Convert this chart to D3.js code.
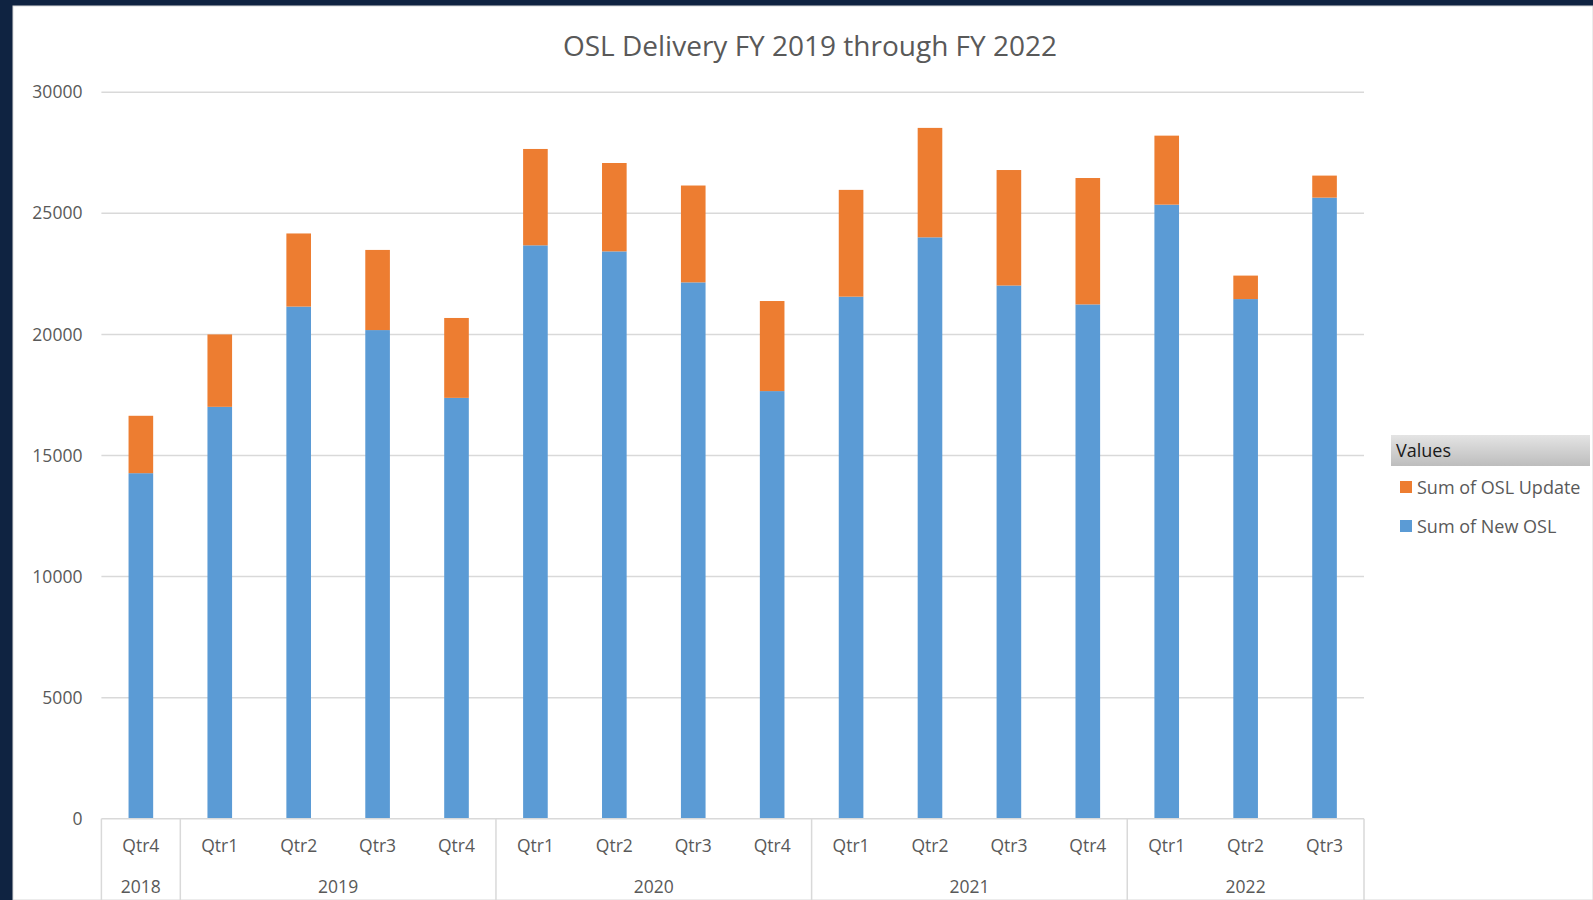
<!DOCTYPE html>
<html>
<head>
<meta charset="utf-8">
<script src="https://cdn.jsdelivr.net/npm/d3@7"></script>
<style>
  html, body { margin: 0; padding: 0; background: #0f2341; }
  svg { display: block; }
  text { font-family: "Open Sans", "Noto Sans", sans-serif; }
</style>
</head>
<body>
<div id="chart"></div>
<script>
// chart values
var quarters = ["Qtr4", "Qtr1", "Qtr2", "Qtr3", "Qtr4", "Qtr1", "Qtr2", "Qtr3", "Qtr4",
                "Qtr1", "Qtr2", "Qtr3", "Qtr4", "Qtr1", "Qtr2", "Qtr3"];
var years = ["2018", "2019", "2020", "2021", "2022"];
var yearCounts = [1, 4, 4, 4, 3];
var newOSL = [14270, 17010, 21150, 20180, 17380, 23680, 23430, 22150, 17660,
              21560, 24010, 22020, 21240, 25360, 21460, 25650];
var oslUpdate = [2370, 2990, 3020, 3310, 3300, 3980, 3650, 4000, 3720,
                 4410, 4520, 4770, 5220, 2850, 970, 910];
var yTicks = [0, 5000, 10000, 15000, 20000, 25000, 30000];
var seriesNames = ["Sum of New OSL", "Sum of OSL Update"];
var seriesColors = ["#5b9bd5", "#ed7d31"];

function render() {
    const width = 1593;
    const height = 900;
    const left = 101.4, right = 1364, top = 92.3, bottom = 818.7;

    const svg = d3.select("#chart")
        .append("svg")
        .attr("width", width)
        .attr("height", height);

    // white panel
    svg.append("rect")
        .attr("x", 13).attr("y", 6)
        .attr("width", width - 13).attr("height", height - 6)
        .attr("fill", "#ffffff")
        .attr("stroke", "#d9d9d9");

    const idx = d3.range(quarters.length);
    const x = d3.scaleBand()
        .domain(idx)
        .range([left, right])
        .padding(0);

    const y = d3.scaleLinear()
        .domain([0, 30000])
        .range([bottom, top]);

    // gridlines
    svg.append("g")
        .selectAll("line")
        .data(yTicks.slice(1))
        .enter()
        .append("line")
        .attr("x1", left).attr("x2", right)
        .attr("y1", d => y(d)).attr("y2", d => y(d))
        .attr("stroke", "#d9d9d9")
        .attr("stroke-width", 1.5);

    // y axis labels
    const leftAxis = d3.axisLeft(y).tickValues(yTicks).tickFormat(d3.format("d"))
        .tickSize(0).tickPadding(19);
    const gy = svg.append("g")
        .attr("transform", `translate(${left}, 0)`)
        .call(leftAxis);
    gy.select(".domain").remove();
    gy.selectAll("text")
        .style("font-size", "17.5px")
        .attr("fill", "#595959");

    // stacked bars
    const rows = idx.map(i => ({ i: i, newOSL: newOSL[i], oslUpdate: oslUpdate[i] }));
    const stacked = d3.stack().keys(["newOSL", "oslUpdate"])(rows);
    const barW = x.bandwidth() * 0.312;

    svg.append("g")
        .selectAll("g")
        .data(stacked)
        .enter()
        .append("g")
        .attr("fill", (d, k) => seriesColors[k])
        .selectAll("rect")
        .data(d => d)
        .enter()
        .append("rect")
        .attr("x", d => x(d.data.i) + (x.bandwidth() - barW) / 2)
        .attr("y", d => y(d[1]))
        .attr("width", barW)
        .attr("height", d => y(d[0]) - y(d[1]));

    // baseline
    svg.append("line")
        .attr("x1", left).attr("x2", right)
        .attr("y1", bottom).attr("y2", bottom)
        .attr("stroke", "#d9d9d9")
        .attr("stroke-width", 1.5);

    // category axis: quarter labels
    svg.append("g")
        .selectAll("text")
        .data(idx)
        .enter()
        .append("text")
        .attr("x", d => x(d) + x.bandwidth() / 2)
        .attr("y", 852)
        .attr("text-anchor", "middle")
        .attr("fill", "#595959")
        .style("font-size", "17.5px")
        .text(d => quarters[d]);

    // year groups
    let starts = [0];
    yearCounts.forEach((c, k) => starts.push(starts[k] + c));
    const edges = starts.map(s => (s < quarters.length ? x(s) : right));

    svg.append("g")
        .selectAll("line")
        .data(edges)
        .enter()
        .append("line")
        .attr("x1", d => d).attr("x2", d => d)
        .attr("y1", bottom).attr("y2", height)
        .attr("stroke", "#d9d9d9")
        .attr("stroke-width", 1.5);

    svg.append("g")
        .selectAll("text")
        .data(years)
        .enter()
        .append("text")
        .attr("x", (d, k) => (edges[k] + edges[k + 1]) / 2)
        .attr("y", 893)
        .attr("text-anchor", "middle")
        .attr("fill", "#595959")
        .style("font-size", "17.5px")
        .text(d => d);

    // title
    svg.append("text")
        .attr("x", 810)
        .attr("y", 56)
        .attr("text-anchor", "middle")
        .attr("fill", "#595959")
        .style("font-size", "28px")
        .text("OSL Delivery FY 2019 through FY 2022");

    // legend
    const grad = svg.append("defs").append("linearGradient")
        .attr("id", "hdr").attr("x1", 0).attr("y1", 0).attr("x2", 0).attr("y2", 1);
    grad.append("stop").attr("offset", "0%").attr("stop-color", "#e4e4e4");
    grad.append("stop").attr("offset", "100%").attr("stop-color", "#bdbdbd");

    const lg = svg.append("g");
    lg.append("rect")
        .attr("x", 1391).attr("y", 435)
        .attr("width", 199).attr("height", 31)
        .attr("fill", "url(#hdr)");
    lg.append("text")
        .attr("x", 1396).attr("y", 457)
        .attr("fill", "#1a1a1a")
        .style("font-size", "18px")
        .text("Values");

    const legendItems = [1, 0];
    lg.selectAll("g.item")
        .data(legendItems)
        .enter()
        .append("g")
        .attr("class", "item")
        .attr("transform", (d, k) => `translate(1400, ${481 + k * 39})`)
        .each(function (d) {
            const g = d3.select(this);
            g.append("rect")
                .attr("width", 12).attr("height", 12)
                .attr("fill", seriesColors[d]);
            g.append("text")
                .attr("x", 17).attr("y", 12.5)
                .attr("fill", "#595959")
                .style("font-size", "18px")
                .text(seriesNames[d]);
        });
}

render();
</script>
</body>
</html>
